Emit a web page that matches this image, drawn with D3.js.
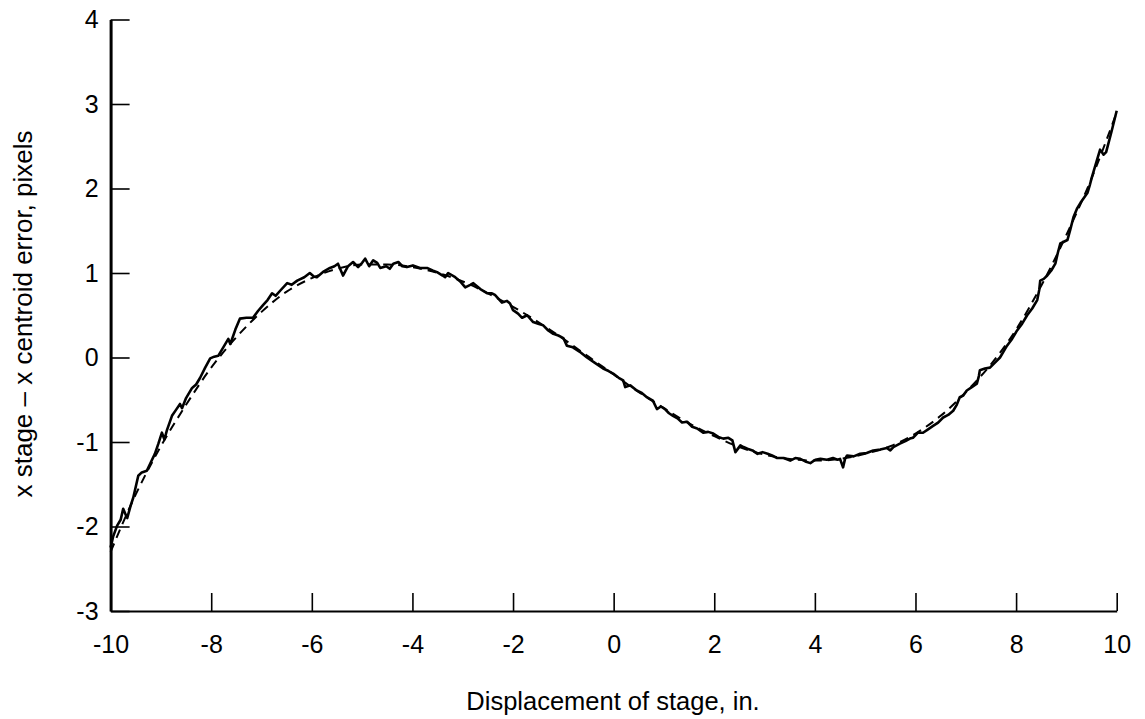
<!DOCTYPE html>
<html>
<head>
<meta charset="utf-8">
<script src="https://cdn.jsdelivr.net/npm/d3@7"></script>
<style>
  html, body { margin: 0; padding: 0; background: #fff; }
  svg { display: block; }
  text { font-family: "Liberation Sans", Arial, Helvetica, sans-serif; fill: #000; }
</style>
</head>
<body>
<svg id="chart" width="1145" height="719"></svg>
<script>
// Measured curve (solid): displacement (in.) and error (pixels)
const measuredX = [-10.00,-9.95,-9.87,-9.80,-9.75,-9.70,-9.67,-9.60,-9.55,-9.45,-9.38,-9.28,-9.20,-9.12,-9.05,-8.98,-8.93,-8.88,-8.78,-8.70,-8.62,-8.58,-8.50,-8.38,-8.30,-8.22,-8.12,-8.02,-7.94,-7.86,-7.76,-7.66,-7.62,-7.52,-7.43,-7.30,-7.17,-7.07,-6.97,-6.88,-6.79,-6.72,-6.63,-6.49,-6.40,-6.29,-6.15,-6.04,-5.96,-5.90,-5.76,-5.64,-5.55,-5.48,-5.38,-5.28,-5.18,-5.08,-5.00,-4.94,-4.86,-4.78,-4.70,-4.64,-4.52,-4.45,-4.38,-4.28,-4.20,-4.11,-3.99,-3.85,-3.71,-3.60,-3.51,-3.40,-3.35,-3.29,-3.15,-3.05,-2.95,-2.85,-2.79,-2.65,-2.51,-2.42,-2.36,-2.22,-2.12,-2.06,-2.00,-1.90,-1.82,-1.72,-1.60,-1.50,-1.40,-1.30,-1.20,-1.10,-1.00,-0.93,-0.81,-0.68,-0.53,-0.38,-0.21,-0.10,-0.01,0.10,0.19,0.23,0.33,0.46,0.56,0.66,0.78,0.86,0.94,1.02,1.10,1.18,1.27,1.36,1.46,1.56,1.66,1.78,1.88,1.98,2.08,2.18,2.28,2.36,2.42,2.52,2.58,2.66,2.76,2.86,2.96,3.06,3.15,3.25,3.38,3.51,3.61,3.71,3.81,3.91,4.01,4.11,4.24,4.36,4.45,4.50,4.56,4.60,4.64,4.77,4.90,5.03,5.16,5.30,5.43,5.50,5.56,5.69,5.80,5.89,5.95,6.05,6.15,6.25,6.35,6.45,6.55,6.65,6.75,6.82,6.88,6.95,7.02,7.12,7.22,7.26,7.28,7.38,7.48,7.58,7.68,7.75,7.82,7.92,8.02,8.12,8.22,8.32,8.42,8.46,8.48,8.55,8.62,8.70,8.78,8.83,8.88,8.95,9.02,9.08,9.14,9.21,9.28,9.35,9.42,9.47,9.51,9.60,9.67,9.74,9.79,9.90,10.00];
const measuredY = [-2.25,-2.12,-1.99,-1.92,-1.79,-1.86,-1.90,-1.75,-1.66,-1.40,-1.36,-1.34,-1.24,-1.14,-1.02,-0.89,-0.97,-0.86,-0.69,-0.62,-0.55,-0.60,-0.48,-0.36,-0.32,-0.24,-0.12,-0.01,0.01,0.02,0.12,0.22,0.16,0.33,0.46,0.47,0.47,0.55,0.62,0.68,0.76,0.73,0.79,0.88,0.86,0.91,0.95,1.00,0.96,0.95,1.02,1.06,1.08,1.11,0.97,1.08,1.13,1.07,1.12,1.17,1.08,1.15,1.12,1.06,1.08,1.05,1.11,1.13,1.08,1.07,1.09,1.06,1.06,1.03,1.01,0.97,0.95,1.00,0.95,0.90,0.83,0.86,0.88,0.81,0.76,0.76,0.74,0.65,0.67,0.64,0.56,0.52,0.47,0.50,0.42,0.40,0.38,0.32,0.28,0.26,0.23,0.14,0.12,0.07,0.00,-0.06,-0.13,-0.16,-0.19,-0.24,-0.27,-0.35,-0.33,-0.39,-0.42,-0.47,-0.51,-0.61,-0.58,-0.61,-0.66,-0.69,-0.72,-0.77,-0.76,-0.82,-0.84,-0.89,-0.88,-0.90,-0.94,-0.96,-0.95,-0.98,-1.12,-1.04,-1.06,-1.08,-1.10,-1.14,-1.12,-1.14,-1.16,-1.19,-1.19,-1.22,-1.19,-1.20,-1.23,-1.25,-1.21,-1.20,-1.21,-1.19,-1.21,-1.20,-1.30,-1.20,-1.16,-1.17,-1.14,-1.13,-1.10,-1.09,-1.07,-1.10,-1.06,-1.02,-0.99,-0.96,-0.95,-0.89,-0.89,-0.85,-0.81,-0.77,-0.71,-0.68,-0.63,-0.56,-0.47,-0.45,-0.39,-0.35,-0.31,-0.22,-0.15,-0.13,-0.12,-0.06,0.00,0.07,0.14,0.22,0.32,0.40,0.50,0.58,0.68,0.80,0.91,0.93,0.97,1.03,1.11,1.24,1.35,1.37,1.39,1.52,1.66,1.76,1.83,1.89,1.95,2.05,2.14,2.32,2.46,2.40,2.43,2.68,2.92];

// Fitted curve (dashed)
const fitX = [-10,-9.5,-9,-8.5,-8,-7.5,-7,-6.5,-6,-5.5,-5,-4.5,-4,-3.5,-3,-2.5,-2,-1.5,-1,-0.5,0,0.5,1,1.5,2,2.5,3,3.5,4,4.5,5,5.5,6,6.5,7,7.5,8,8.5,9,9.5,10];
const fitY = [-2.30,-1.62,-1.05,-0.56,-0.12,0.24,0.54,0.78,0.94,1.05,1.10,1.10,1.07,1.00,0.90,0.76,0.60,0.42,0.22,0.01,-0.20,-0.41,-0.60,-0.78,-0.93,-1.06,-1.15,-1.20,-1.22,-1.20,-1.14,-1.05,-0.90,-0.69,-0.41,-0.08,0.33,0.85,1.45,2.12,2.90];

const xTicks = [-10,-8,-6,-4,-2,0,2,4,6,8,10];
const yTicks = [-3,-2,-1,0,1,2,3,4];
const xTitle = "Displacement of stage, in.";
const yTitle = "x stage \u2013 x centroid error, pixels";

const svg = d3.select("#chart");
const x = d3.scaleLinear().domain([-10, 10]).range([110.6, 1116.7]);
const y = d3.scaleLinear().domain([-3, 4]).range([611, 19.5]);
const TICK_FONT = 25;
const fmt = d => String(d);

// Bottom axis
const gx = svg.append("g").attr("transform", `translate(0,${y(-3)})`)
  .call(d3.axisBottom(x).tickValues(xTicks).tickFormat(fmt)
    .tickSizeInner(-18).tickSizeOuter(0).tickPadding(24));
gx.select(".domain").attr("stroke", "#000").attr("stroke-width", 2.2);
gx.selectAll(".tick line").attr("stroke", "#000").attr("stroke-width", 1.6);

// Left axis
const gy = svg.append("g").attr("transform", `translate(${x(-10)},0)`)
  .call(d3.axisLeft(y).tickValues(yTicks).tickFormat(fmt)
    .tickSizeInner(-19).tickSizeOuter(0).tickPadding(12));
gy.select(".domain").attr("stroke", "#000").attr("stroke-width", 3);
gy.selectAll(".tick line").attr("stroke", "#000").attr("stroke-width", 1.6);

svg.selectAll(".tick text").attr("fill", "#000").attr("font-family", null)
  .attr("font-size", TICK_FONT);
svg.selectAll(".axis, g").attr("font-family", null);

// Fit (dashed)
const fitData = fitX.map((v, i) => [v, fitY[i]]);
svg.append("path").datum(fitData)
  .attr("fill", "none").attr("stroke", "#000").attr("stroke-width", 2)
  .attr("stroke-dasharray", "9,6")
  .attr("d", d3.line().x(d => x(d[0])).y(d => y(d[1])).curve(d3.curveMonotoneX));

// Measured (solid)
const measData = measuredX.map((v, i) => [v, measuredY[i]]);
svg.append("path").datum(measData)
  .attr("fill", "none").attr("stroke", "#000").attr("stroke-width", 2.6)
  .attr("stroke-linejoin", "round")
  .attr("d", d3.line().x(d => x(d[0])).y(d => y(d[1])));

// Titles
svg.append("text").attr("x", 613).attr("y", 710).attr("text-anchor", "middle")
  .attr("font-size", 25.5).text(xTitle);
svg.append("text").attr("transform", "translate(32,314) rotate(-90)")
  .attr("text-anchor", "middle").attr("font-size", 26).text(yTitle);
</script>
</body>
</html>
